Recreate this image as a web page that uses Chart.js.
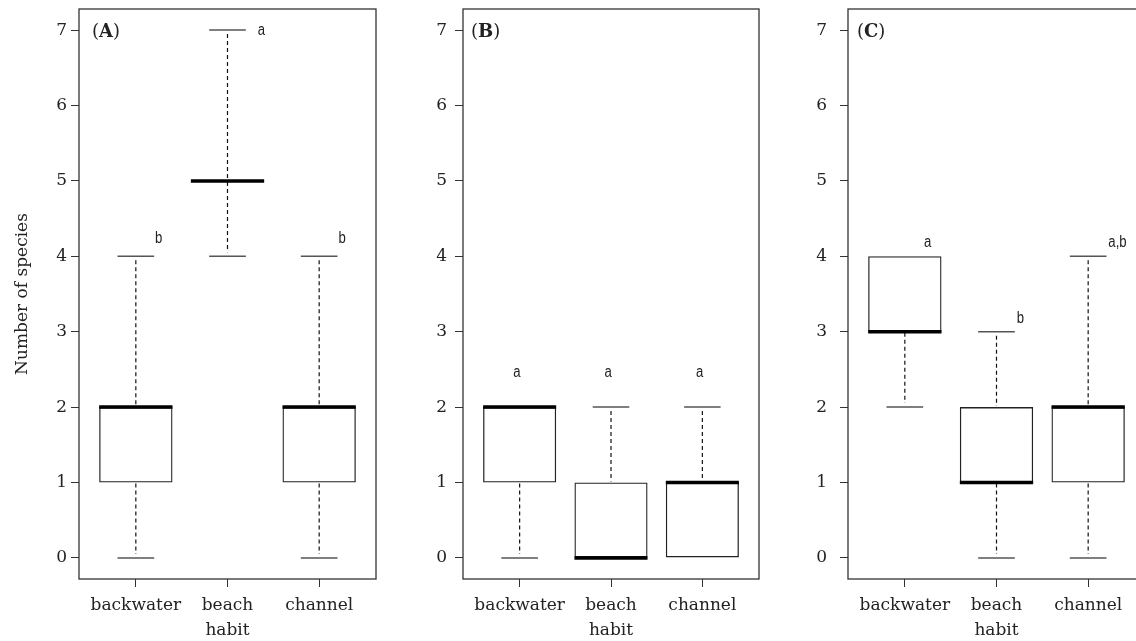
<!DOCTYPE html>
<html>
<head>
<meta charset="utf-8">
<script src="https://cdn.jsdelivr.net/npm/chart.js@4.4.1/dist/chart.umd.min.js"></script>
<style>
  html, body { margin: 0; padding: 0; background: #fff; overflow: hidden; width: 1136px; height: 641px; }
  canvas { position: absolute; top: 0; }
</style>
</head>
<body>
<canvas id="chartA" width="380" height="641" style="left:0px"></canvas>
<canvas id="chartB" width="380" height="641" style="left:380px"></canvas>
<canvas id="chartC" width="390" height="641" style="left:760px"></canvas>
<script>
"use strict";

// Categories and tick labels
const categories = ['backwater', 'beach', 'channel'];
const yTicks = [0, 1, 2, 3, 4, 5, 6, 7];

// Box statistics per category: [min, q1, median, q3, max]
const statsA = [[0, 1, 2, 2, 4], [4, 5, 5, 5, 7], [0, 1, 2, 2, 4]];
const statsB = [[0, 1, 2, 2, 2], [0, 0, 0, 1, 2], [0, 0, 1, 1, 2]];
const statsC = [[2, 3, 3, 4, 4], [0, 1, 1, 2, 3], [0, 1, 2, 2, 4]];

// Significance letters
const lettersA = ['b', 'a', 'b'];
const lettersB = ['a', 'a', 'a'];
const lettersC = ['a', 'b', 'a,b'];
const letterYA = [4.18, 6.93, 4.18];
const letterYB = [2.40, 2.40, 2.40];
const letterYC = [4.12, 3.12, 4.12];

Chart.defaults.font.family = "'DejaVu Serif', serif";
Chart.defaults.font.size = 17;
Chart.defaults.color = '#222';

// Whiskers, staples, medians, frame and annotations
const boxExtras = {
    id: 'boxExtras',
    afterDatasetsDraw(chart) {
        const { ctx, chartArea, scales: { x, y } } = chart;
        const opts = chart.options.plugins.boxExtras;
        const line = (x1, y1, x2, y2) => {
            ctx.beginPath();
            ctx.moveTo(x1, y1);
            ctx.lineTo(x2, y2);
            ctx.stroke();
        };
        opts.stats.forEach((s, i) => {
            const cx = x.getPixelForValue(i + 1);
            const hw = x.getPixelForValue(i + 1.4) - cx;
            const sw = hw / 2;
            const [lo, q1, med, q3, hi] = s.map(v => y.getPixelForValue(v));
            ctx.save();
            // dashed whiskers
            ctx.strokeStyle = '#111';
            ctx.lineWidth = 1.2;
            ctx.setLineDash([4, 3]);
            if (s[4] > s[3]) line(cx, hi + 4, cx, q3 - 1);
            if (s[0] < s[1]) line(cx, q1 + 1, cx, lo - 4);
            // staples
            ctx.setLineDash([]);
            ctx.strokeStyle = '#555';
            ctx.lineWidth = 1.5;
            if (s[4] > s[3]) line(cx - sw, hi, cx + sw, hi);
            if (s[0] < s[1]) line(cx - sw, lo, cx + sw, lo);
            // median
            ctx.strokeStyle = '#000';
            ctx.lineWidth = 3.5;
            line(cx - hw, med, cx + hw, med);
            ctx.restore();
        });
        // frame
        ctx.save();
        ctx.strokeStyle = '#333';
        ctx.lineWidth = 1.3;
        ctx.strokeRect(chartArea.left, chartArea.top, chartArea.right - chartArea.left, chartArea.bottom - chartArea.top);
        ctx.restore();
    },
    afterDraw(chart) {
        const { ctx, chartArea, scales: { x, y } } = chart;
        const opts = chart.options.plugins.boxExtras;
        // letters
        ctx.save();
        ctx.fillStyle = '#222';
        ctx.font = "16px 'Liberation Sans', sans-serif";
        ctx.textBaseline = 'alphabetic';
        ctx.textAlign = 'left';
        opts.letters.forEach((t, i) => {
            const px = x.getPixelForValue(i + 1 + opts.letterDx[i]);
            const py = y.getPixelForValue(opts.letterY[i]);
            ctx.save();
            ctx.translate(px, py);
            ctx.scale(0.82, 1);
            ctx.fillText(t, 0, 0);
            ctx.restore();
        });
        // panel tag like (A)
        let tx = chartArea.left + opts.tagDx;
        const ty = 37;
        ctx.fillStyle = '#222';
        ctx.font = "18px 'DejaVu Serif', serif";
        ctx.fillText('(', tx, ty);
        tx += ctx.measureText('(').width;
        ctx.font = "bold 18px 'DejaVu Serif', serif";
        ctx.fillText(opts.tag, tx, ty);
        tx += ctx.measureText(opts.tag).width;
        ctx.font = "18px 'DejaVu Serif', serif";
        ctx.fillText(')', tx, ty);
        ctx.restore();
    }
};

const makePanel = (id, tag, stats, letters, letterY, letterDx, cfg) => {
    const ctx = document.getElementById(id).getContext('2d');
    return new Chart(ctx, {
        type: 'bar',
        data: {
            datasets: [{
                data: stats.map((s, i) => ({ x: i + 1, y: [s[1], s[3]] })),
                backgroundColor: 'rgba(255,255,255,0)',
                borderColor: '#222',
                borderWidth: 1.3,
                borderSkipped: false,
                barPercentage: 0.8,
                categoryPercentage: 1
            }]
        },
        options: {
            responsive: false,
            animation: false,
            events: [],
            layout: { padding: { top: 9, right: cfg.padRight, left: 0, bottom: 0 } },
            plugins: {
                legend: { display: false },
                tooltip: { enabled: false },
                boxExtras: { stats, letters, letterY, letterDx, tag, tagDx: cfg.tagDx }
            },
            scales: {
                x: {
                    type: 'linear',
                    min: 0.38,
                    max: 3.62,
                    offset: false,
                    afterBuildTicks: scale => { scale.ticks = categories.map((c, i) => ({ value: i + 1 })); },
                    afterFit: scale => {
                        scale.height = 62;
                        scale.paddingLeft = 0;
                        scale.paddingRight = 0;
                    },
                    ticks: {
                        autoSkip: false,
                        maxRotation: 0,
                        padding: 8,
                        color: '#222',
                        callback: v => categories[v - 1] || ''
                    },
                    grid: { drawOnChartArea: false, drawTicks: true, tickLength: 8, tickColor: '#333', offset: false },
                    border: { display: false },
                    title: { display: true, text: 'habit', color: '#222', padding: { top: 0, bottom: 0 } }
                },
                y: {
                    type: 'linear',
                    min: -0.28,
                    max: 7.28,
                    afterBuildTicks: scale => { scale.ticks = yTicks.map(v => ({ value: v })); },
                    afterFit: scale => {
                        scale.width = cfg.yWidth;
                        scale.paddingTop = 0;
                        scale.paddingBottom = 0;
                    },
                    ticks: { padding: cfg.yPad, color: '#222', callback: v => String(v) },
                    grid: { drawOnChartArea: false, drawTicks: true, tickLength: 8, tickColor: '#333' },
                    border: { display: false },
                    title: { display: cfg.yTitle, text: 'Number of species', color: '#222', padding: { top: 12, bottom: 0 } }
                }
            }
        },
        plugins: [boxExtras]
    });
};

makePanel('chartA', 'A', statsA, lettersA, letterYA, [0.21, 0.33, 0.21],
    { yWidth: 79, padRight: 4, yPad: 4, tagDx: 13, yTitle: true });
makePanel('chartB', 'B', statsB, lettersB, letterYB, [-0.07, -0.07, -0.07],
    { yWidth: 83, padRight: 1, yPad: 8, tagDx: 8, yTitle: false });
makePanel('chartC', 'C', statsC, lettersC, letterYC, [0.21, 0.22, 0.22],
    { yWidth: 88, padRight: 5, yPad: 13, tagDx: 9, yTitle: false });
</script>
</body>
</html>
